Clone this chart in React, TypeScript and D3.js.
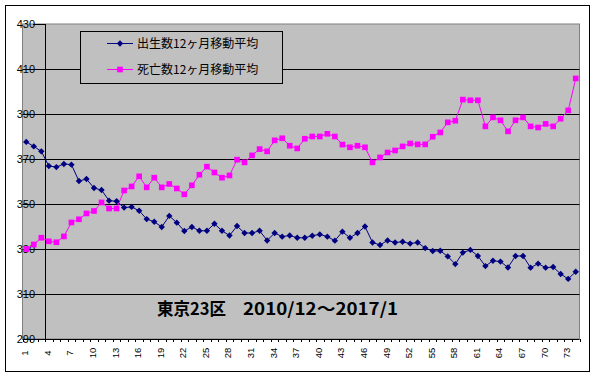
import React from "react";
import * as d3 from "d3";

const categories: number[] = Array.from({ length: 74 }, (_, i) => i + 1);
const yTicks: number[] = [290, 310, 330, 350, 370, 390, 410, 430];
const xTickLabels: number[] = [1, 4, 7, 10, 13, 16, 19, 22, 25, 28, 31, 34, 37, 40, 43, 46, 49, 52, 55, 58, 61, 64, 67, 70, 73];

const seriesNames: string[] = ["出生数12ヶ月移動平均", "死亡数12ヶ月移動平均"];

const births: number[] = [
  377.6, 375.6, 373.4, 366.9, 366.4, 367.8, 367.5, 360.2, 361.1, 357.1,
  356.2, 351.5, 351.2, 348.4, 348.7, 347.0, 343.3, 342.1, 339.8, 344.7,
  341.7, 338.0, 339.8, 338.1, 338.1, 341.2, 338.1, 336.0, 340.2, 337.1,
  337.1, 338.1, 333.8, 337.1, 335.5, 336.0, 335.0, 335.0, 335.9, 336.5,
  335.5, 333.7, 337.7, 335.0, 337.1, 340.0, 332.9, 331.8, 333.8, 332.9,
  333.2, 332.4, 332.9, 330.4, 329.1, 329.2, 326.7, 323.3, 328.4, 329.6,
  326.9, 322.4, 324.8, 324.4, 321.8, 326.9, 326.9, 321.7, 323.5, 321.7,
  322.0, 318.9, 316.7, 319.9,
];

const deaths: number[] = [
  330.0, 332.0, 335.0, 333.4, 333.0, 335.6, 341.8, 343.2, 345.8, 346.9,
  350.7, 348.0, 348.0, 356.0, 357.8, 362.3, 357.4, 361.7, 357.4, 358.9,
  356.9, 354.3, 358.3, 363.0, 366.6, 364.0, 361.7, 362.7, 369.7, 368.5,
  371.6, 374.4, 373.4, 378.3, 379.2, 375.9, 374.7, 379.0, 380.0, 380.0,
  381.2, 380.0, 376.4, 375.2, 375.9, 375.2, 368.5, 370.7, 372.9, 373.8,
  375.6, 376.9, 376.5, 376.5, 379.9, 381.8, 386.3, 387.0, 396.4, 396.1,
  396.1, 384.5, 388.5, 387.2, 382.3, 387.2, 388.5, 384.5, 384.0, 385.6,
  384.5, 387.9, 391.6, 405.8,
];

const titleLeft = "東京23区";
const titleRight = "2010/12～2017/1";

const W = 595;
const H = 378;
const plotL = 22.5;
const plotR = 579.5;
const plotT = 24;
const plotB = 339;

const BLUE = "#000080";
const PINK = "#FF00FF";
const FONT = "'Noto Sans CJK JP', 'Noto Sans', sans-serif";

export default function App() {
  const x = d3.scaleBand<number>().domain(categories).range([plotL, plotR]).padding(0);
  const bw = x.bandwidth();
  const cx = (c: number) => (x(c) as number) + bw / 2;
  const y = d3.scaleLinear().domain([290, 430]).range([plotB, plotT]);

  const line = d3
    .line<number>()
    .x((_, i) => cx(categories[i]))
    .y((d) => y(d));

  const axisX = (x(4) as number);
  const diamond = d3.symbol().type(d3.symbolDiamond2).size(26)();
  const square = d3.symbol().type(d3.symbolSquare).size(32)();

  const boundaries = [...categories.map((c) => x(c) as number), plotR];

  return (
    <svg
      width={W}
      height={H}
      style={{ position: "fixed", left: 0, top: 0, background: "#fff" }}
      fontFamily={FONT}
    >
      <rect x={0} y={0} width={W} height={H} fill="#fff" />
      <rect x={5.5} y={5.5} width={584} height={366} fill="#fff" stroke="#000" strokeWidth={1} />
      {/* plot area */}
      <rect x={plotL} y={plotT} width={plotR - plotL} height={plotB - plotT} fill="#C0C0C0" stroke="#808080" strokeWidth={1} />
      {/* gridlines */}
      {yTicks.filter((t) => t !== 430).map((t) => (
        <line key={t} x1={plotL} x2={plotR} y1={Math.round(y(t)) + 0.5} y2={Math.round(y(t)) + 0.5} stroke="#000" strokeWidth={1} />
      ))}
      {/* y axis line at category 4 boundary */}
      <line x1={Math.round(axisX) + 0.5} x2={Math.round(axisX) + 0.5} y1={plotT} y2={plotB} stroke="#000" strokeWidth={1} />
      {yTicks.map((t) => (
        <line key={"yt" + t} x1={Math.round(axisX) - 12} x2={Math.round(axisX)} y1={Math.round(y(t)) + 0.5} y2={Math.round(y(t)) + 0.5} stroke="#000" strokeWidth={1} />
      ))}
      {/* x ticks */}
      {boundaries.map((b, i) => (
        <line key={"xt" + i} x1={Math.round(b) + 0.5} x2={Math.round(b) + 0.5} y1={plotB} y2={plotB + 3} stroke="#000" strokeWidth={1} />
      ))}
      {/* y labels */}
      {yTicks.map((t) => (
        <text key={"yl" + t} x={35} y={y(t)} dy="0.35em" textAnchor="end" fontSize={11} fontFamily="'Liberation Sans', Arial, sans-serif" fill="#000">
          {t}
        </text>
      ))}
      {/* x labels */}
      {xTickLabels.map((c) => (
        <text
          key={"xl" + c}
          transform={`translate(${cx(c) - 1.5},353) rotate(-90)`}
          textAnchor="middle"
          dominantBaseline="central"
          fontSize={9.5}
          fontFamily="'Liberation Sans', Arial, sans-serif"
          fill="#000"
        >
          {c}
        </text>
      ))}
      {/* series */}
      <path d={line(births) || ""} fill="none" stroke={BLUE} strokeWidth={1} />
      <path d={line(deaths) || ""} fill="none" stroke={PINK} strokeWidth={1} />
      {births.map((v, i) => (
        <path key={"b" + i} d={diamond || ""} transform={`translate(${cx(categories[i])},${y(v)})`} fill={BLUE} />
      ))}
      {deaths.map((v, i) => (
        <path key={"d" + i} d={square || ""} transform={`translate(${cx(categories[i])},${y(v)})`} fill={PINK} />
      ))}
      {/* legend */}
      <rect x={80.5} y={31.5} width={202} height={52} fill="#C0C0C0" stroke="#000" strokeWidth={1} />
      <line x1={107} x2={133} y1={43.5} y2={43.5} stroke={BLUE} strokeWidth={1} />
      <path d={diamond || ""} transform="translate(120,43.5)" fill={BLUE} />
      <text x={137} y={43.5} dy="0.36em" fontSize={12} fill="#000">{seriesNames[0]}</text>
      <line x1={107} x2={133} y1={69.5} y2={69.5} stroke={PINK} strokeWidth={1} />
      <path d={square || ""} transform="translate(120,69.5)" fill={PINK} />
      <text x={137} y={69.5} dy="0.36em" fontSize={12} fill="#000">{seriesNames[1]}</text>
      {/* title */}
      <text x={157} y={315} fontSize={17} fontWeight="bold" fill="#000" textLength={69} lengthAdjust="spacingAndGlyphs">{titleLeft}</text>
      <text x={243} y={315} fontSize={17} fontWeight="bold" fill="#000" textLength={155} lengthAdjust="spacingAndGlyphs">{titleRight}</text>
    </svg>
  );
}
